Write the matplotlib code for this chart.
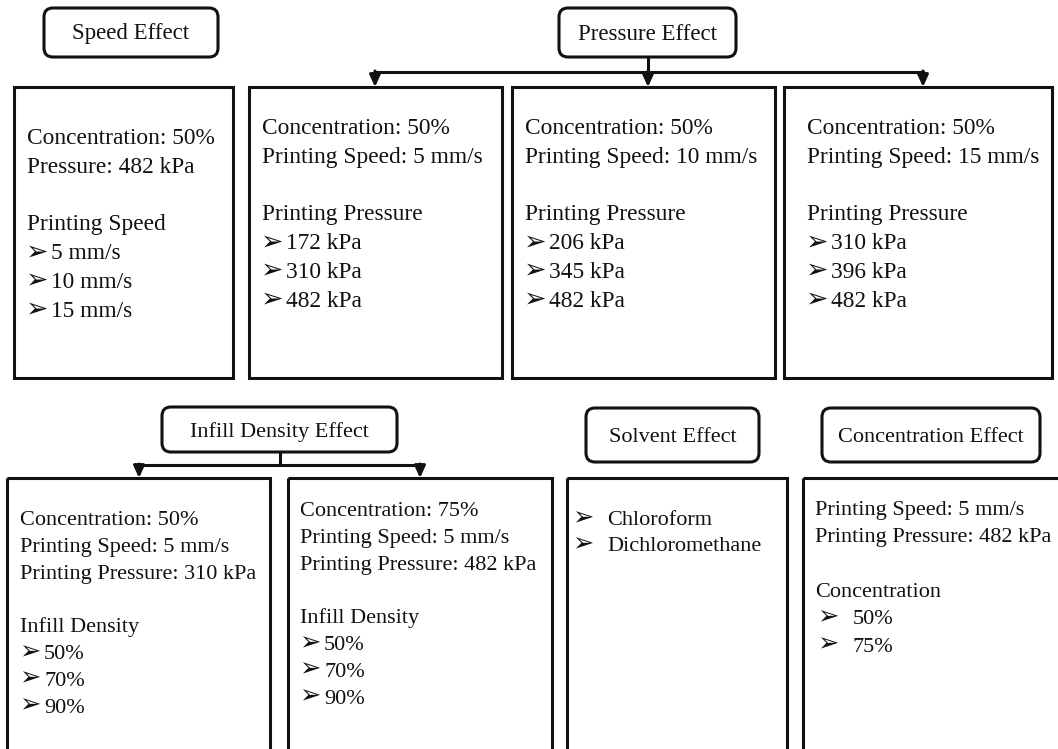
import matplotlib
matplotlib.use("Agg")
import matplotlib.pyplot as plt
from matplotlib.patches import Rectangle, FancyBboxPatch

# ---- content -------------------------------------------------------------
EFFECT_LABELS = ["Speed Effect", "Pressure Effect", "Infill Density Effect",
                 "Solvent Effect", "Concentration Effect"]

speed_params = ["Concentration: 50%", "Pressure: 482 kPa"]
speed_heading = "Printing Speed"
speed_levels = ["5 mm/s", "10 mm/s", "15 mm/s"]

pressure_conc = "Concentration: 50%"
pressure_speeds = ["5 mm/s", "10 mm/s", "15 mm/s"]
pressure_heading = "Printing Pressure"
pressure_levels = [["172 kPa", "310 kPa", "482 kPa"],
                   ["206 kPa", "345 kPa", "482 kPa"],
                   ["310 kPa", "396 kPa", "482 kPa"]]

infill_params = [["Concentration: 50%", "Printing Speed: 5 mm/s", "Printing Pressure: 310 kPa"],
                 ["Concentration: 75%", "Printing Speed: 5 mm/s", "Printing Pressure: 482 kPa"]]
infill_heading = "Infill Density"
infill_levels = ["50%", "70%", "90%"]

solvents = ["Chloroform", "Dichloromethane"]

conc_params = ["Printing Speed: 5 mm/s", "Printing Pressure: 482 kPa"]
conc_heading = "Concentration"
conc_levels = ["50%", "75%"]

# ---- layout (pixel frame, y down) -----------------------------------------
W, H = 1058, 749
SERIF = ["Liberation Serif", "DejaVu Serif"]
INK = "#111111"
LW = 2.2
BULLET = "\u27A2"

fig = plt.figure(figsize=(W / 100, H / 100), dpi=100)
ax = fig.add_axes([0, 0, 1, 1])
ax.set_xlim(0, W)
ax.set_ylim(H, 0)
ax.axis("off")


def rect(x0, y0, x1, y1):
    ax.add_patch(Rectangle((x0, y0), x1 - x0, y1 - y0, fill=False, ec=INK, lw=LW))


def label(x0, y0, x1, y1, text, fs=16.5):
    ax.add_patch(FancyBboxPatch((x0, y0), x1 - x0, y1 - y0,
                                boxstyle="round,pad=0,rounding_size=9",
                                fc="white", ec=INK, lw=LW))
    ax.text((x0 + x1) / 2, (y0 + y1) / 2 + 7, text, family=SERIF, fontsize=fs,
            color=INK, ha="center", va="baseline")


def lines(x, y0, step, rows, fs, gap=24):
    """rows: list of str (plain), None (blank) or ('b', str) for bullet items."""
    y = y0
    for r in rows:
        if r is None:
            pass
        elif isinstance(r, tuple):
            ax.text(x - 1, y + 7, BULLET, family="DejaVu Sans", fontsize=fs * 1.15,
                    color=INK, ha="left", va="baseline")
            ax.text(x + gap, y + 7, r[1], family=SERIF, fontsize=fs,
                    color=INK, ha="left", va="baseline")
        else:
            ax.text(x, y + 7, r, family=SERIF, fontsize=fs,
                    color=INK, ha="left", va="baseline")
        y += step


def connector(stem_x, y_top, y_bar, y_tip, targets):
    ax.plot([stem_x, stem_x], [y_top, y_bar], color=INK, lw=LW, solid_capstyle="butt")
    ax.plot([min(targets), max(targets)], [y_bar, y_bar], color=INK, lw=LW,
            solid_capstyle="projecting")
    for tx in targets:
        ax.annotate("", xy=(tx, y_tip), xytext=(tx, y_bar - 1),
                    arrowprops=dict(arrowstyle="-|>,head_width=0.32,head_length=0.7",
                                    color=INK, lw=LW, shrinkA=0, shrinkB=0))


# ---- top row ---------------------------------------------------------------
TOP = (87, 378)
top_x = [(14, 233), (249, 502), (512, 775), (784, 1052)]
for x0, x1 in top_x:
    rect(x0, TOP[0], x1, TOP[1])

label(44, 8, 218, 57, EFFECT_LABELS[0])
label(559, 8, 736, 57, EFFECT_LABELS[1])
connector(648, 57, 72, 87, [375, 648, 923])

FS_TOP = 16.8
STEP_TOP = 28.8
lines(27, 137, STEP_TOP,
      speed_params + [None, speed_heading] + [("b", v) for v in speed_levels], FS_TOP)
for tx, spd, lev in zip([262, 525, 807], pressure_speeds, pressure_levels):
    lines(tx, 127, STEP_TOP,
          [pressure_conc, "Printing Speed: " + spd, None, pressure_heading]
          + [("b", v) for v in lev], FS_TOP)

# ---- bottom row ------------------------------------------------------------
BOT = (478, 762)
bot_x = [(7, 270), (288, 552), (567, 787), (803, 1075)]
for x0, x1 in bot_x:
    rect(x0, BOT[0], x1, BOT[1])

label(162, 407, 397, 452, EFFECT_LABELS[2], fs=16)
label(586, 408, 759, 462, EFFECT_LABELS[3], fs=16)
label(822, 408, 1040, 462, EFFECT_LABELS[4], fs=16)
connector(280, 452, 465, 478, [139, 420])

FS_BOT = 16
for tx, y0, params in zip([20, 300], [518, 509], infill_params):
    lines(tx, y0, 26.8,
          params + [None, infill_heading] + [("b", v) for v in infill_levels], FS_BOT)

lines(573, 518, 26.2, [("b", s) for s in solvents], FS_BOT, gap=34)
lines(815, 508, 27.3, conc_params + [None, conc_heading], FS_BOT)
lines(818, 508 + 4 * 27.3, 27.3, [("b", v) for v in conc_levels], FS_BOT, gap=35)
fig.savefig("out.png", dpi=100, facecolor="white")
